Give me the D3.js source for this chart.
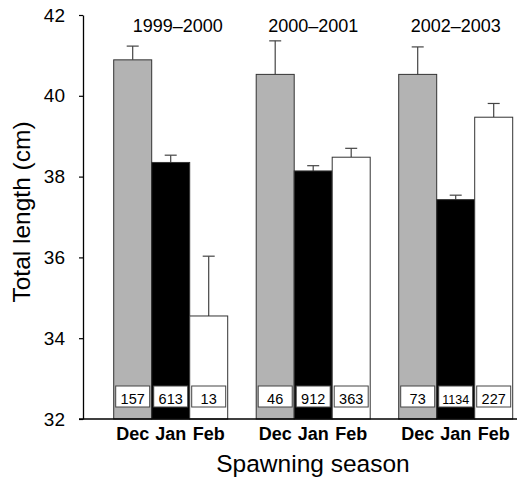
<!DOCTYPE html>
<html><head><meta charset="utf-8">
<script src="https://cdn.jsdelivr.net/npm/d3@7"></script>
<style>body{margin:0;background:#fff}svg{display:block}text{font-family:"Liberation Sans",Arial,sans-serif}</style>
</head><body><svg id="c" width="530" height="479"></svg>
<script>
const seasons = ["1999–2000", "2000–2001", "2002–2003"];
const months = ["Dec", "Jan", "Feb"];
const means = [[40.89, 38.35, 34.55], [40.53, 38.14, 38.48], [40.53, 37.43, 39.47]];
const ses = [[0.34, 0.18, 1.48], [0.83, 0.13, 0.22], [0.68, 0.11, 0.34]];
const counts = [["157", "613", "13"], ["46", "912", "363"], ["73", "1134", "227"]];
const yTicks = [32, 34, 36, 38, 40, 42];
const fills = ["#b3b3b3", "#000000", "#ffffff"];

const svg = d3.select("#c");
const y = d3.scaleLinear().domain([32, 42]).range([419, 15]);
const xg = d3.scaleBand().domain(seasons).range([113.7, 512.7]).paddingInner(0.2).paddingOuter(0);
const xm = d3.scaleBand().domain(months).range([0, xg.bandwidth()]).padding(0);

seasons.forEach((s, gi) => {
  const g = svg.append("g").attr("transform", `translate(${xg(s)},0)`);
  months.forEach((m, mi) => {
    const v = means[gi][mi], se = ses[gi][mi];
    const x0 = xm(m), bw = xm.bandwidth(), cx = x0 + bw / 2;
    g.append("line").attr("x1", cx).attr("x2", cx).attr("y1", y(v)).attr("y2", y(v + se))
      .attr("stroke", "#444").attr("stroke-width", 1.2);
    g.append("line").attr("x1", cx - 6).attr("x2", cx + 6).attr("y1", y(v + se)).attr("y2", y(v + se))
      .attr("stroke", "#444").attr("stroke-width", 1.2);
    g.append("rect").attr("x", x0).attr("y", y(v)).attr("width", bw).attr("height", y(32) - y(v))
      .attr("fill", fills[mi]).attr("stroke", "#333").attr("stroke-width", 1);
    g.append("rect").attr("x", cx - 17).attr("y", 386).attr("width", 34).attr("height", 21)
      .attr("fill", "#fff").attr("stroke", "#444").attr("stroke-width", 1);
    const lbl = counts[gi][mi];
    g.append("text").attr("x", cx).attr("y", 403.5).attr("text-anchor", "middle")
      .attr("font-size", lbl.length > 3 ? 12.5 : 14.5).text(lbl);
    g.append("text").attr("x", cx).attr("y", 439.5).attr("text-anchor", "middle")
      .attr("font-size", 18).attr("font-weight", "bold").text(m);
  });
  g.append("text").attr("x", xg.bandwidth() / 2 + (gi === 0 ? 7 : 0)).attr("y", 32)
    .attr("text-anchor", "middle").attr("font-size", 18).text(s);
});

const ya = svg.append("g").attr("transform", "translate(83,0)")
  .call(d3.axisLeft(y).tickValues(yTicks).tickSize(4).tickSizeOuter(0).tickPadding(14));
ya.select(".domain").attr("stroke", "#000").attr("stroke-width", 1.3);
ya.selectAll(".tick line").attr("stroke", "#000").attr("stroke-width", 1.2);
ya.selectAll(".tick text").attr("font-size", 19).attr("font-family", "Liberation Sans, Arial, sans-serif").attr("fill", "#000");

svg.append("line").attr("x1", 79).attr("x2", 517).attr("y1", y(32)).attr("y2", y(32))
  .attr("stroke", "#000").attr("stroke-width", 1.3);

svg.append("text").attr("x", 313).attr("y", 472).attr("text-anchor", "middle")
  .attr("font-size", 24.5).text("Spawning season");
svg.append("text").attr("transform", "translate(30,212) rotate(-90)").attr("text-anchor", "middle")
  .attr("font-size", 24.5).text("Total length (cm)");
</script></body></html>
